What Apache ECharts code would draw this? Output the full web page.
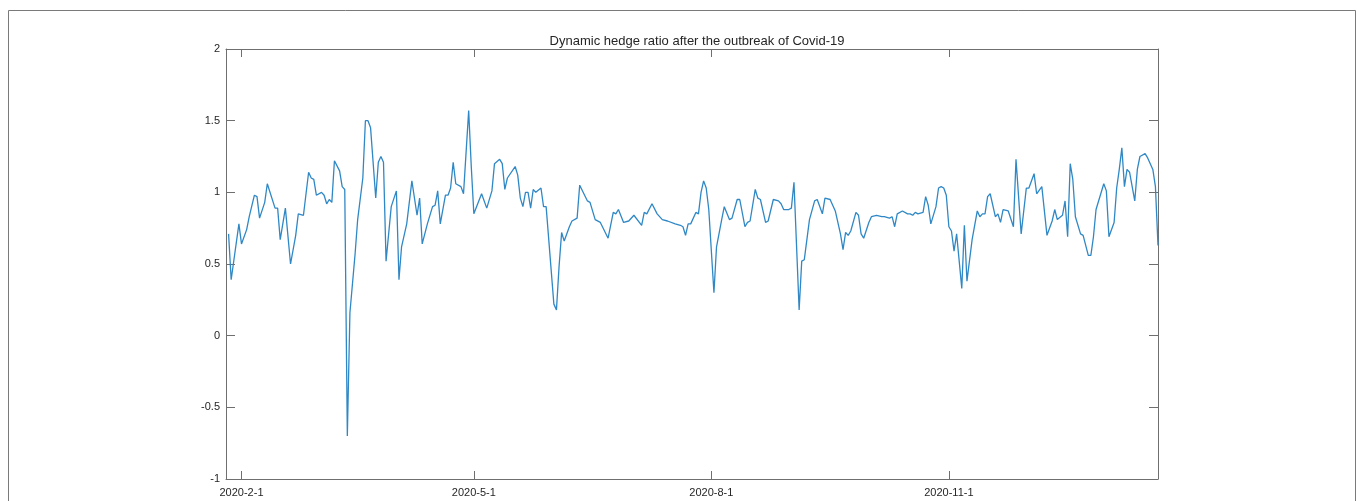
<!DOCTYPE html>
<html>
<head>
<meta charset="utf-8">
<title>Dynamic hedge ratio</title>
<script src="https://cdn.jsdelivr.net/npm/echarts@6/dist/echarts.min.js"></script>
<style>
  html, body { margin: 0; padding: 0; background: #fff; }
  #main { width: 1357px; height: 501px; }
</style>
</head>
<body>
<div id="main"></div>
<script>
// dates and values
var dates = [
  '2020-01-27','2020-01-28','2020-01-31','2020-02-01','2020-02-03','2020-02-04','2020-02-06','2020-02-07','2020-02-08','2020-02-10',
  '2020-02-11','2020-02-14','2020-02-15','2020-02-16','2020-02-18','2020-02-20','2020-02-22','2020-02-23','2020-02-25','2020-02-27',
  '2020-02-28','2020-02-29','2020-03-01','2020-03-03','2020-03-04','2020-03-05','2020-03-06','2020-03-07','2020-03-08','2020-03-10',
  '2020-03-11','2020-03-12','2020-03-13','2020-03-14','2020-03-16','2020-03-17','2020-03-19','2020-03-20','2020-03-21','2020-03-22',
  '2020-03-24','2020-03-25','2020-03-26','2020-03-27','2020-03-28','2020-03-30','2020-04-01','2020-04-02','2020-04-03','2020-04-05',
  '2020-04-07','2020-04-09','2020-04-10','2020-04-11','2020-04-13','2020-04-15','2020-04-16','2020-04-17','2020-04-18','2020-04-20',
  '2020-04-21','2020-04-22','2020-04-23','2020-04-24','2020-04-26','2020-04-27','2020-04-29','2020-04-30','2020-05-01','2020-05-04',
  '2020-05-06','2020-05-08','2020-05-09','2020-05-11','2020-05-12','2020-05-13','2020-05-14','2020-05-17','2020-05-18','2020-05-19',
  '2020-05-20','2020-05-21','2020-05-22','2020-05-23','2020-05-24','2020-05-25','2020-05-27','2020-05-28','2020-05-29','2020-06-01',
  '2020-06-02','2020-06-03','2020-06-04','2020-06-05','2020-06-07','2020-06-08','2020-06-10','2020-06-11','2020-06-14','2020-06-15',
  '2020-06-17','2020-06-19','2020-06-22','2020-06-24','2020-06-25','2020-06-26','2020-06-28','2020-06-30','2020-07-02','2020-07-05',
  '2020-07-06','2020-07-07','2020-07-09','2020-07-11','2020-07-13','2020-07-15','2020-07-18','2020-07-20','2020-07-21','2020-07-22',
  '2020-07-23','2020-07-24','2020-07-26','2020-07-27','2020-07-28','2020-07-29','2020-07-30','2020-07-31','2020-08-02','2020-08-03',
  '2020-08-05','2020-08-06','2020-08-08','2020-08-09','2020-08-11','2020-08-12','2020-08-14','2020-08-15','2020-08-16','2020-08-18',
  '2020-08-19','2020-08-20','2020-08-22','2020-08-23','2020-08-25','2020-08-27','2020-08-28','2020-08-29','2020-08-31','2020-09-01',
  '2020-09-02','2020-09-04','2020-09-05','2020-09-06','2020-09-08','2020-09-10','2020-09-11','2020-09-13','2020-09-14','2020-09-16',
  '2020-09-18','2020-09-20','2020-09-21','2020-09-22','2020-09-23','2020-09-24','2020-09-26','2020-09-27','2020-09-28','2020-09-29',
  '2020-10-01','2020-10-02','2020-10-04','2020-10-06','2020-10-07','2020-10-09','2020-10-10','2020-10-11','2020-10-12','2020-10-14',
  '2020-10-16','2020-10-17','2020-10-18','2020-10-19','2020-10-20','2020-10-22','2020-10-23','2020-10-24','2020-10-25','2020-10-27',
  '2020-10-28','2020-10-29','2020-10-30','2020-10-31','2020-11-01','2020-11-02','2020-11-03','2020-11-04','2020-11-06','2020-11-07',
  '2020-11-08','2020-11-10','2020-11-12','2020-11-13','2020-11-14','2020-11-15','2020-11-16','2020-11-17','2020-11-19','2020-11-20',
  '2020-11-21','2020-11-22','2020-11-24','2020-11-26','2020-11-27','2020-11-29','2020-12-01','2020-12-02','2020-12-04','2020-12-05',
  '2020-12-07','2020-12-09','2020-12-11','2020-12-12','2020-12-13','2020-12-15','2020-12-16','2020-12-17','2020-12-18','2020-12-19',
  '2020-12-20','2020-12-22','2020-12-23','2020-12-25','2020-12-26','2020-12-27','2020-12-28','2020-12-31','2021-01-01','2021-01-02',
  '2021-01-04','2021-01-05','2021-01-06','2021-01-07','2021-01-08','2021-01-09','2021-01-10','2021-01-12','2021-01-13','2021-01-14',
  '2021-01-16','2021-01-17','2021-01-19','2021-01-20','2021-01-21'
];

var hedgeRatio = [
  0.71, 0.39, 0.78, 0.64, 0.74, 0.83, 0.98, 0.97, 0.82, 0.93,
  1.06, 0.89, 0.89, 0.67, 0.89, 0.50, 0.70, 0.85, 0.84, 1.14,
  1.10, 1.09, 0.98, 1.00, 0.98, 0.92, 0.95, 0.93, 1.22, 1.15,
  1.04, 1.02, -0.70, 0.16, 0.57, 0.81, 1.10, 1.50, 1.50, 1.45,
  0.96, 1.21, 1.25, 1.21, 0.52, 0.90, 1.01, 0.39, 0.62, 0.78,
  1.08, 0.84, 0.96, 0.64, 0.78, 0.90, 0.91, 1.01, 0.78, 0.98,
  0.98, 1.03, 1.21, 1.06, 1.04, 0.99, 1.57, 1.18, 0.85, 0.99,
  0.89, 1.01, 1.20, 1.23, 1.20, 1.02, 1.10, 1.18, 1.12, 0.96,
  0.90, 1.00, 1.00, 0.89, 1.02, 1.00, 1.03, 0.90, 0.90, 0.22,
  0.18, 0.48, 0.72, 0.66, 0.76, 0.80, 0.82, 1.05, 0.94, 0.93,
  0.81, 0.79, 0.68, 0.86, 0.85, 0.88, 0.79, 0.80, 0.84, 0.77,
  0.86, 0.85, 0.92, 0.85, 0.81, 0.80, 0.78, 0.77, 0.76, 0.70,
  0.78, 0.78, 0.86, 0.85, 1.00, 1.08, 1.03, 0.88, 0.30, 0.62,
  0.81, 0.90, 0.81, 0.82, 0.95, 0.95, 0.76, 0.79, 0.80, 1.02,
  0.96, 0.95, 0.79, 0.80, 0.95, 0.94, 0.92, 0.88, 0.88, 0.89,
  1.07, 0.18, 0.52, 0.53, 0.81, 0.94, 0.95, 0.85, 0.96, 0.95,
  0.87, 0.71, 0.60, 0.72, 0.70, 0.73, 0.86, 0.84, 0.71, 0.68,
  0.79, 0.83, 0.84, 0.83, 0.83, 0.82, 0.83, 0.76, 0.85, 0.87,
  0.85, 0.85, 0.84, 0.86, 0.85, 0.86, 0.97, 0.91, 0.78, 0.90,
  1.03, 1.04, 1.03, 0.98, 0.76, 0.73, 0.59, 0.71, 0.33, 0.77,
  0.38, 0.67, 0.87, 0.83, 0.85, 0.85, 0.97, 0.99, 0.83, 0.85,
  0.79, 0.88, 0.87, 0.76, 1.23, 0.71, 1.03, 1.03, 1.13, 0.99,
  1.04, 0.70, 0.80, 0.88, 0.81, 0.84, 0.94, 0.69, 1.20, 1.09,
  0.83, 0.71, 0.70, 0.56, 0.56, 0.69, 0.88, 1.06, 1.01, 0.69,
  0.79, 1.03, 1.16, 1.31, 1.04, 1.16, 1.14, 0.94, 1.16, 1.25,
  1.27, 1.24, 1.16, 1.04, 0.63
];

var xTickDates = ['2020-02-01', '2020-05-01', '2020-08-01', '2020-11-01'];
var yTicks = [-1, -0.5, 0, 0.5, 1, 1.5, 2];
var xStart = '2020-01-26';
var xEnd = '2021-01-21';
var chartTitle = 'Dynamic hedge ratio after the outbreak of Covid-19';

function toTime(s) {
  var p = s.split('-');
  return new Date(+p[0], +p[1] - 1, +p[2]).getTime();
}
function fmtDate(v) {
  var d = new Date(v);
  return d.getFullYear() + '-' + (d.getMonth() + 1) + '-' + d.getDate();
}

var xTicks = xTickDates.map(toTime);
var seriesData = dates.map(function (d, i) { return [toTime(d), hedgeRatio[i]]; });

var FONT = '"Liberation Sans", Arial, Helvetica, sans-serif';
var axisGrey = '#6f6f6f';
var textColor = '#262626';

var myChart = echarts.init(document.getElementById('main'));

// x is a plain value axis holding timestamps, so the ticks can be put on the month starts
var xBase = {
  type: 'value',
  min: toTime(xStart),
  max: toTime(xEnd),
  scale: true,
  splitLine: { show: false },
  axisLine: { show: true, onZero: false, lineStyle: { color: axisGrey, width: 1 } },
  axisTick: { show: true, inside: true, length: 8, customValues: xTicks, lineStyle: { color: axisGrey } }
};
var yBase = {
  type: 'value',
  min: yTicks[0],
  max: yTicks[yTicks.length - 1],
  interval: 0.5,
  splitLine: { show: false },
  axisLine: { show: true, onZero: false, lineStyle: { color: axisGrey, width: 1 } },
  axisTick: { show: true, inside: true, length: 9, lineStyle: { color: axisGrey } }
};

var option = {
  animation: false,
  backgroundColor: '#ffffff',
  title: {
    text: chartTitle,
    left: 692,
    top: 30,
    textAlign: 'center',
    textStyle: { fontFamily: FONT, fontSize: 13, fontWeight: 'normal', color: textColor }
  },
  grid: { left: 226, right: 199, top: 49, bottom: 22, containLabel: false },
  xAxis: [
    Object.assign({}, xBase, {
      position: 'bottom',
      axisLabel: {
        show: true,
        customValues: xTicks,
        margin: 8,
        fontFamily: FONT,
        fontSize: 11,
        color: textColor,
        formatter: function (v) { return fmtDate(v); }
      }
    }),
    Object.assign({}, xBase, {
      position: 'top',
      axisLabel: { show: false }
    })
  ],
  yAxis: [
    Object.assign({}, yBase, {
      position: 'left',
      axisLabel: {
        show: true,
        margin: 6,
        fontFamily: FONT,
        fontSize: 11,
        color: textColor,
        formatter: function (v) { return String(v); }
      }
    }),
    Object.assign({}, yBase, {
      position: 'right',
      axisLabel: { show: false }
    })
  ],
  graphic: [
    {
      type: 'rect',
      silent: true,
      shape: { x: 8.5, y: 10.5, width: 1347, height: 600 },
      style: { fill: 'none', stroke: '#7a7a7a', lineWidth: 1 }
    }
  ],
  series: [
    {
      name: 'hedge ratio',
      type: 'line',
      xAxisIndex: 0,
      yAxisIndex: 0,
      data: seriesData,
      showSymbol: false,
      smooth: false,
      lineStyle: { color: '#2f88c5', width: 1.3 },
      itemStyle: { color: '#2f88c5' }
    }
  ]
};

myChart.setOption(option);
</script>
</body>
</html>
